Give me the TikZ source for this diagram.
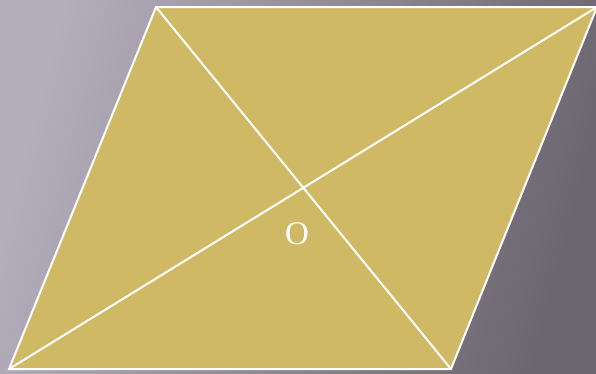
\documentclass[tikz,border=0pt]{standalone}
\usepackage{fontspec}
\setmainfont{Liberation Serif}
\definecolor{bgl}{RGB}{180,173,188}
\definecolor{bgd}{RGB}{108,102,112}
\definecolor{para}{RGB}{207,185,101}
\tikzset{
  edge/.style={draw=white, line width=2pt, line join=miter},
  lbl/.style={text=white, font=\fontsize{33}{36}\selectfont, inner sep=0pt}
}
\begin{document}
\begin{tikzpicture}[x=1pt,y=-1pt]
\shade[left color=bgl, right color=bgd, shading angle=75] (0,0) rectangle (596,373);
\useasboundingbox (0,0) rectangle (596,373);
\coordinate (A) at (156,7);
\coordinate (B) at (597,7);
\coordinate (C) at (451,369);
\coordinate (D) at (9,369);
\fill[para] (A) -- (B) -- (C) -- (D) -- cycle;
\draw[edge] (A) -- (C);
\draw[edge] (D) -- (B);
\draw[edge] (A) -- (B) -- (C) -- (D) -- cycle;
\node[lbl] (O) at (297,234) {O};
\end{tikzpicture}
\end{document}
